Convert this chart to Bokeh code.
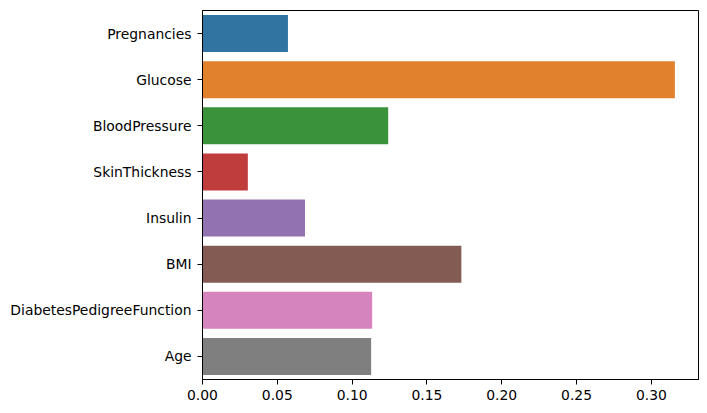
from bokeh.plotting import figure
from bokeh.models import Range1d, FactorRange, FixedTicker, NumeralTickFormatter, ColumnDataSource
from bokeh.embed import file_html
from bokeh.resources import INLINE

features = ["Pregnancies", "Glucose", "BloodPressure", "SkinThickness",
            "Insulin", "BMI", "DiabetesPedigreeFunction", "Age"]
importances = [0.0571, 0.3157, 0.1241, 0.0303, 0.0685, 0.1730, 0.1134, 0.1127]
colors = ["#3274a1", "#e1812c", "#3a923a", "#c03d3e",
          "#9372b2", "#845b53", "#d684bd", "#7f7f7f"]
x_ticks = [0.0, 0.05, 0.10, 0.15, 0.20, 0.25, 0.30]

src = ColumnDataSource(dict(feature=features, value=importances, color=colors))

p = figure(
    y_range=FactorRange(factors=list(reversed(features))),
    x_range=Range1d(0, max(importances) * 1.05),
    frame_width=496, frame_height=369,
    min_border_left=202, min_border_top=10, min_border_right=8, min_border_bottom=30,
    output_backend="svg", toolbar_location=None,
)
p.hbar(y="feature", right="value", left=0, height=0.8, color="color", line_color=None, source=src)

p.xgrid.visible = False
p.ygrid.visible = False
p.outline_line_color = "black"
p.outline_line_width = 1
p.outline_line_alpha = 1

for ax in (p.xaxis[0], p.yaxis[0]):
    ax.axis_line_color = "black"
    ax.axis_line_width = 1
    ax.major_tick_line_color = "black"
    ax.major_tick_out = 5
    ax.major_tick_in = 0
    ax.minor_tick_line_color = None
    ax.major_label_text_font = "DejaVu Sans"
    ax.major_label_text_font_size = "13.9px"
    ax.major_label_text_color = "black"

p.xaxis.ticker = FixedTicker(ticks=x_ticks)
p.xaxis.formatter = NumeralTickFormatter(format="0.00")
p.xaxis.major_label_standoff = 5
p.yaxis.major_label_standoff = 6

open("out.html", "w").write(file_html(p, INLINE))
